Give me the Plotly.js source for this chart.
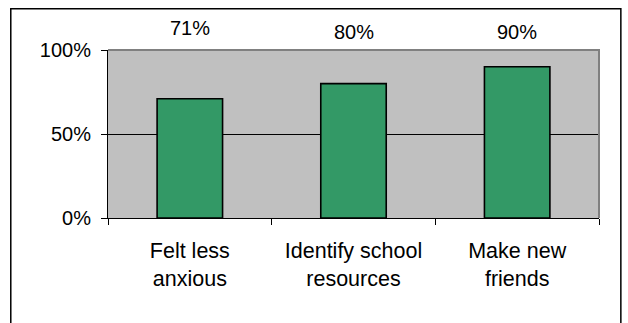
<!DOCTYPE html>
<html>
<head>
<meta charset="utf-8">
<script src="https://cdn.plot.ly/plotly-3.0.1.min.js"></script>
<style>html,body{margin:0;padding:0;background:#fff;}#chart{width:628px;height:323px;}</style>
</head>
<body>
<div id="chart"></div>
<script>
const categories = ["Felt less<br>anxious", "Identify school<br>resources", "Make new<br>friends"];
const values = [71, 80, 90];
const valueLabels = ["71%", "80%", "90%"];
const yTickVals = [0, 50, 100];
const yTickText = ["0%", "50%", "100%"];

const FONT = "Liberation Sans, Arial, sans-serif";

const trace = {
  type: "bar",
  x: categories,
  y: values,
  marker: { color: "#339966", line: { color: "#000000", width: 1.6 } },
  hoverinfo: "none"
};

const annotations = categories.map((c, i) => ({
  x: c, xref: "x",
  y: i === 0 ? 1.13 : 1.107, yref: "paper",
  text: valueLabels[i],
  showarrow: false,
  xanchor: "center", yanchor: "middle",
  font: { family: FONT, size: 20, color: "#000" }
}));

const layout = {
  width: 628, height: 323,
  margin: { l: 108, r: 29, t: 50, b: 105 },
  paper_bgcolor: "#ffffff",
  plot_bgcolor: "#C0C0C0",
  showlegend: false,
  bargap: 0.6,
  font: { family: FONT, size: 20, color: "#000" },
  xaxis: {
    type: "category",
    tickson: "boundaries",
    ticks: "outside", ticklen: 6, tickwidth: 1, tickcolor: "#000",
    showline: true, linecolor: "#000", linewidth: 1,
    showgrid: false,
    tickfont: { family: FONT, size: 21.5, color: "#000" },
    ticklabelstandoff: 13,
    fixedrange: true
  },
  yaxis: {
    range: [0, 100],
    tickvals: yTickVals, ticktext: yTickText,
    ticks: "outside", ticklen: 6, tickwidth: 1, tickcolor: "#000",
    showline: true, linecolor: "#000", linewidth: 1,
    showgrid: true, gridcolor: "#000", gridwidth: 1,
    zeroline: false,
    tickfont: { family: FONT, size: 20, color: "#000" },
    ticklabelstandoff: 6,
    fixedrange: true
  },
  annotations: annotations,
  shapes: [
    { type: "path", xref: "paper", yref: "paper", layer: "above",
      path: "M 0 1 L 1 1 L 1 0", line: { color: "#808080", width: 2 } },
    { type: "rect", xref: "paper", yref: "paper", layer: "above",
      x0: -0.198, x1: 1.0445, y0: 1.245, y1: -0.8,
      line: { color: "#000", width: 1.5 }, fillcolor: "rgba(0,0,0,0)" }
  ]
};

Plotly.newPlot("chart", [trace], layout, { staticPlot: true, displayModeBar: false });
</script>
</body>
</html>
